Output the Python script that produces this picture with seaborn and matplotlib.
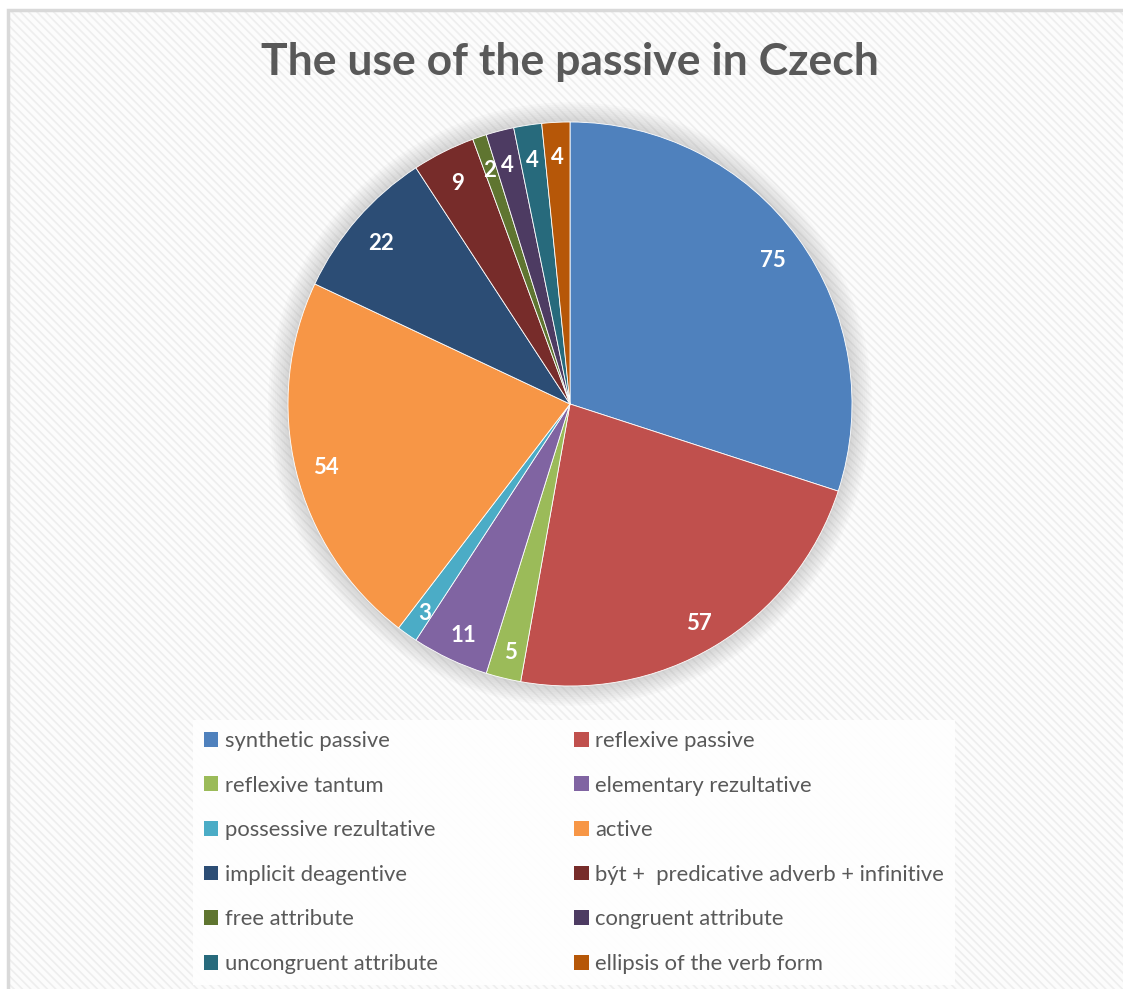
import numpy as np
import matplotlib
matplotlib.use("Agg")
import matplotlib.pyplot as plt
import seaborn as sns
from matplotlib.patches import Rectangle, Circle

# Passive-construction categories and their counts
categories = [
    "synthetic passive",
    "reflexive passive",
    "reflexive tantum",
    "elementary rezultative",
    "possessive rezultative",
    "active",
    "implicit deagentive",
    "být +  predicative adverb + infinitive",
    "free attribute",
    "congruent attribute",
    "uncongruent attribute",
    "ellipsis of the verb form",
]
counts = [75, 57, 5, 11, 3, 54, 22, 9, 2, 4, 4, 4]
colors = [
    "#4F81BD", "#C0504D", "#9BBB59", "#8064A2", "#4BACC6", "#F79646",
    "#2C4D75", "#772C2A", "#5F7530", "#4D3B62", "#276A7C", "#B65708",
]
title = "The use of the passive in Czech"

sns.set_theme(style="white")
plt.rcParams["font.family"] = ["Lato", "DejaVu Sans"]
plt.rcParams["hatch.linewidth"] = 1.2

palette = sns.color_palette(colors)

W, H = 1123, 989
fig = plt.figure(figsize=(W / 100, H / 100), dpi=100)
fig.patch.set_facecolor("white")

# chart area: fine diagonal texture and thin grey frame
tex = Rectangle((8 / W, 0), 1, 1 - 10 / H, transform=fig.transFigure,
                facecolor="#fcfcfc", edgecolor="#eeeeee", lw=0,
                hatch="\\\\\\\\", zorder=-2)
fig.patches.append(tex)
frame = Rectangle((8 / W, -0.01), 1, 1 - 10 / H + 0.01, transform=fig.transFigure,
                  facecolor="none", edgecolor="#d9d9d9", lw=2.5, zorder=-1)
fig.patches.append(frame)

# pie axes
cx, cy, r = 570, 404, 282
ax = fig.add_axes([(cx - r) / W, 1 - (cy + r) / H, 2 * r / W, 2 * r / H])
ax.set_zorder(1)
ax.set_facecolor("none")
ax.axis("off")

# soft glow behind the pie
for rr in np.linspace(1.07, 1.0, 10):
    ax.add_patch(Circle((0, 0), rr, facecolor="#808080", edgecolor="none",
                        alpha=0.035, clip_on=False, zorder=0))

total = sum(counts)
wedges, texts, autotexts = ax.pie(
    counts,
    colors=palette,
    startangle=90,
    counterclock=False,
    autopct=lambda p: f"{round(p * total / 100)}",
    pctdistance=0.89,
    wedgeprops=dict(edgecolor="white", linewidth=0.6, zorder=2),
    textprops=dict(color="white", fontsize=16, fontweight="bold"),
)
for w in wedges:
    w.set_clip_on(False)
for t in autotexts:
    t.set_zorder(3)
    x, y = t.get_position()
    t.set_position((x, y - 0.015))
ax.set_xlim(-1, 1)
ax.set_ylim(-1, 1)
ax.set_aspect("equal")

fig.text(cx / W, 1 - 62 / H, title, ha="center", va="center",
         fontsize=32, fontweight="bold", color="#595959")

# legend laid out row by row in two columns
order = [0, 2, 4, 6, 8, 10, 1, 3, 5, 7, 9, 11]
leg = fig.legend(
    handles=[wedges[i] for i in order],
    labels=[categories[i] for i in order],
    ncol=2,
    loc="upper left",
    bbox_to_anchor=(193 / W, 1 - 985 / H, 762 / W, 265 / H),
    borderaxespad=0,
    mode="expand",
    fontsize=15.8,
    labelcolor="#595959",
    handlelength=0.66,
    handleheight=0.66,
    handletextpad=0.3,
    labelspacing=1.12,
    borderpad=0.5,
    frameon=True,
    fancybox=False,
    framealpha=0.9,
    facecolor="white",
    edgecolor="none",
)
leg.set_zorder(2)
for h in leg.legend_handles:
    h.set_edgecolor("none")

fig.savefig("out.png", dpi=100)
